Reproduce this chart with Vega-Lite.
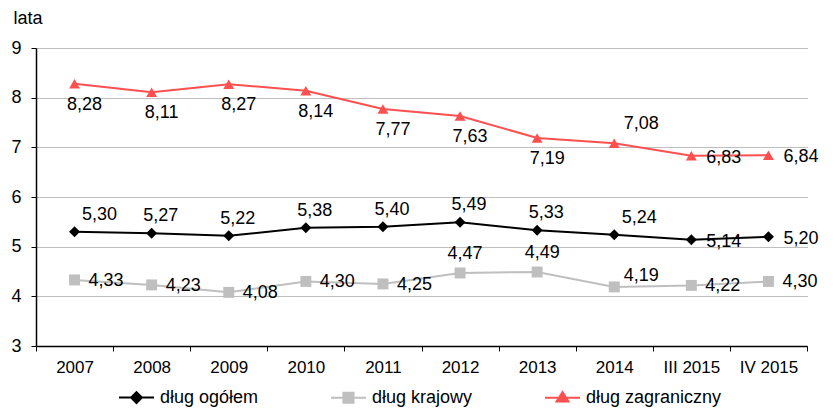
{
  "$schema": "https://vega.github.io/schema/vega-lite/v6.json",
  "width": 771,
  "height": 298,
  "autosize": {"type": "none"},
  "padding": {"left": 36, "top": 48, "right": 28, "bottom": 66},
  "background": "white",
  "config": {
    "view": {"stroke": null},
    "font": "Liberation Sans",
    "locale": {"number": {"decimal": ",", "thousands": " ", "grouping": [3], "currency": ["", " zł"]}}
  },
  "data": {"values": [
    {"rok": "2007", "seria": "dług ogółem", "wartosc": 5.30},
    {"rok": "2008", "seria": "dług ogółem", "wartosc": 5.27},
    {"rok": "2009", "seria": "dług ogółem", "wartosc": 5.22},
    {"rok": "2010", "seria": "dług ogółem", "wartosc": 5.38},
    {"rok": "2011", "seria": "dług ogółem", "wartosc": 5.40},
    {"rok": "2012", "seria": "dług ogółem", "wartosc": 5.49},
    {"rok": "2013", "seria": "dług ogółem", "wartosc": 5.33},
    {"rok": "2014", "seria": "dług ogółem", "wartosc": 5.24},
    {"rok": "III 2015", "seria": "dług ogółem", "wartosc": 5.14},
    {"rok": "IV 2015", "seria": "dług ogółem", "wartosc": 5.20},
    {"rok": "2007", "seria": "dług krajowy", "wartosc": 4.33},
    {"rok": "2008", "seria": "dług krajowy", "wartosc": 4.23},
    {"rok": "2009", "seria": "dług krajowy", "wartosc": 4.08},
    {"rok": "2010", "seria": "dług krajowy", "wartosc": 4.30},
    {"rok": "2011", "seria": "dług krajowy", "wartosc": 4.25},
    {"rok": "2012", "seria": "dług krajowy", "wartosc": 4.47},
    {"rok": "2013", "seria": "dług krajowy", "wartosc": 4.49},
    {"rok": "2014", "seria": "dług krajowy", "wartosc": 4.19},
    {"rok": "III 2015", "seria": "dług krajowy", "wartosc": 4.22},
    {"rok": "IV 2015", "seria": "dług krajowy", "wartosc": 4.30},
    {"rok": "2007", "seria": "dług zagraniczny", "wartosc": 8.28},
    {"rok": "2008", "seria": "dług zagraniczny", "wartosc": 8.11},
    {"rok": "2009", "seria": "dług zagraniczny", "wartosc": 8.27},
    {"rok": "2010", "seria": "dług zagraniczny", "wartosc": 8.14},
    {"rok": "2011", "seria": "dług zagraniczny", "wartosc": 7.77},
    {"rok": "2012", "seria": "dług zagraniczny", "wartosc": 7.63},
    {"rok": "2013", "seria": "dług zagraniczny", "wartosc": 7.19},
    {"rok": "2014", "seria": "dług zagraniczny", "wartosc": 7.08},
    {"rok": "III 2015", "seria": "dług zagraniczny", "wartosc": 6.83},
    {"rok": "IV 2015", "seria": "dług zagraniczny", "wartosc": 6.84}
  ]},
  "encoding": {
    "x": {
      "field": "rok", "type": "ordinal",
      "sort": ["2007", "2008", "2009", "2010", "2011", "2012", "2013", "2014", "III 2015", "IV 2015"],
      "scale": {"type": "band", "paddingInner": 0, "paddingOuter": 0},
      "axis": {
        "title": null, "labelAngle": 0, "tickBand": "extent", "grid": false,
        "domainColor": "#000000", "domainWidth": 1.5, "tickColor": "#000000", "tickSize": 5,
        "labelFontSize": 17, "labelColor": "#000000", "labelPadding": 8
      }
    },
    "y": {
      "field": "wartosc", "type": "quantitative",
      "scale": {"domain": [3, 9], "nice": false, "zero": false},
      "axis": {
        "values": [3, 4, 5, 6, 7, 8, 9],
        "title": "lata", "titleAngle": 0, "titleAlign": "left", "titleBaseline": "middle",
        "titleX": -23, "titleY": -30, "titleFontSize": 18, "titleFontWeight": "normal", "titleColor": "#000000",
        "domainColor": "#000000", "domainWidth": 1.5, "tickColor": "#000000", "tickSize": 5,
        "labelFontSize": 18, "labelColor": "#000000", "labelPadding": 10,
        "grid": true, "gridColor": "#7f7f7f", "gridDash": [1, 1], "gridWidth": 1
      }
    }
  },
  "layer": [
    {
      "mark": {"type": "line", "strokeWidth": 2},
      "encoding": {
        "color": {
          "field": "seria", "type": "nominal",
          "scale": {"domain": ["dług ogółem", "dług krajowy", "dług zagraniczny"], "range": ["#000000", "#BFBFBF", "#FF5050"]},
          "legend": {
            "title": null, "orient": "none", "direction": "horizontal",
            "legendX": 82, "legendY": 331,
            "labelFontSize": 18, "labelColor": "#000000", "labelOffset": 5,
            "columnPadding": 68, "symbolSize": 1225, "symbolStrokeWidth": 2,
            "encode": {
              "symbols": {
                "update": {
                  "shape": {"signal": "datum.value === 'dług ogółem' ? 'M-1,0L1,0M0,-0.31L0.31,0L0,0.31L-0.31,0Z' : datum.value === 'dług krajowy' ? 'M-1,0L1,0M-0.29,-0.29L0.29,-0.29L0.29,0.29L-0.29,0.29Z' : 'M-1,0L1,0M0,-0.32L0.34,0.22L-0.34,0.22Z'"},
                  "fill": {"scale": "color", "field": "value"},
                  "stroke": {"scale": "color", "field": "value"},
                  "strokeWidth": {"value": 2},
                  "opacity": {"value": 1}
                }
              }
            }
          }
        },
        "order": {"field": "rok"}
      }
    },
    {
      "transform": [{"calculate": "datum.seria", "as": "ksztalt"}],
      "mark": {"type": "point", "filled": true, "opacity": 1, "size": 120, "strokeWidth": 0},
      "encoding": {
        "fill": {
          "field": "ksztalt", "type": "nominal",
          "scale": {"domain": ["dług zagraniczny", "dług krajowy", "dług ogółem"], "range": ["#FF5050", "#BFBFBF", "#000000"]},
          "legend": null
        },
        "shape": {
          "field": "ksztalt", "type": "nominal",
          "scale": {"domain": ["dług zagraniczny", "dług krajowy", "dług ogółem"], "range": ["triangle-up", "square", "diamond"]},
          "legend": null
        }
      }
    },
    {
      "transform": [{"filter": "datum.seria == 'dług ogółem' && indexof(['2008','2009','2010','2011','2012','2013'], datum.rok) >= 0"}],
      "mark": {"type": "text", "fontSize": 18, "color": "#000000", "align": "center", "baseline": "middle", "dx": 9, "dy": -17},
      "encoding": {"text": {"field": "wartosc", "type": "quantitative", "format": ".2f"}}
    },
    {
      "transform": [{"filter": "datum.seria == 'dług ogółem' && indexof(['2007','2014'], datum.rok) >= 0"}],
      "mark": {"type": "text", "fontSize": 18, "color": "#000000", "align": "center", "baseline": "middle", "dx": 25, "dy": -17},
      "encoding": {"text": {"field": "wartosc", "type": "quantitative", "format": ".2f"}}
    },
    {
      "transform": [{"filter": "datum.seria == 'dług ogółem' && indexof(['III 2015','IV 2015'], datum.rok) >= 0"}],
      "mark": {"type": "text", "fontSize": 18, "color": "#000000", "align": "left", "baseline": "middle", "dx": 15, "dy": 2},
      "encoding": {"text": {"field": "wartosc", "type": "quantitative", "format": ".2f"}}
    },
    {
      "transform": [{"filter": "datum.seria == 'dług krajowy' && indexof(['2007','2008','2009','2010','2011','III 2015','IV 2015'], datum.rok) >= 0"}],
      "mark": {"type": "text", "fontSize": 18, "color": "#000000", "align": "left", "baseline": "middle", "dx": 14, "dy": 1},
      "encoding": {"text": {"field": "wartosc", "type": "quantitative", "format": ".2f"}}
    },
    {
      "transform": [{"filter": "datum.seria == 'dług krajowy' && indexof(['2012','2013'], datum.rok) >= 0"}],
      "mark": {"type": "text", "fontSize": 18, "color": "#000000", "align": "center", "baseline": "middle", "dx": 5, "dy": -19},
      "encoding": {"text": {"field": "wartosc", "type": "quantitative", "format": ".2f"}}
    },
    {
      "transform": [{"filter": "datum.seria == 'dług krajowy' && datum.rok == '2014'"}],
      "mark": {"type": "text", "fontSize": 18, "color": "#000000", "align": "center", "baseline": "middle", "dx": 27, "dy": -11},
      "encoding": {"text": {"field": "wartosc", "type": "quantitative", "format": ".2f"}}
    },
    {
      "transform": [{"filter": "datum.seria == 'dług zagraniczny' && indexof(['2007','2008','2009','2010','2011','2012','2013'], datum.rok) >= 0"}],
      "mark": {"type": "text", "fontSize": 18, "color": "#000000", "align": "center", "baseline": "middle", "dx": 10, "dy": 21},
      "encoding": {"text": {"field": "wartosc", "type": "quantitative", "format": ".2f"}}
    },
    {
      "transform": [{"filter": "datum.seria == 'dług zagraniczny' && datum.rok == '2014'"}],
      "mark": {"type": "text", "fontSize": 18, "color": "#000000", "align": "center", "baseline": "middle", "dx": 27, "dy": -19},
      "encoding": {"text": {"field": "wartosc", "type": "quantitative", "format": ".2f"}}
    },
    {
      "transform": [{"filter": "datum.seria == 'dług zagraniczny' && indexof(['III 2015','IV 2015'], datum.rok) >= 0"}],
      "mark": {"type": "text", "fontSize": 18, "color": "#000000", "align": "left", "baseline": "middle", "dx": 15, "dy": 2},
      "encoding": {"text": {"field": "wartosc", "type": "quantitative", "format": ".2f"}}
    }
  ]
}
